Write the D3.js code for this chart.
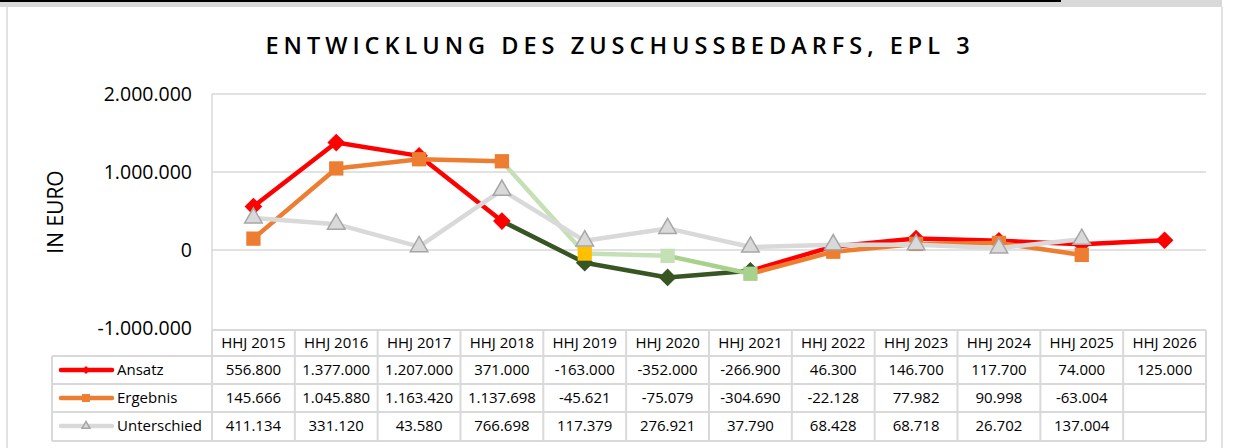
<!DOCTYPE html>
<html>
<head>
<meta charset="utf-8">
<script src="https://cdn.jsdelivr.net/npm/d3@7"></script>
<style>
  html, body { margin: 0; padding: 0; background: #fff; }
  svg { display: block; }
  text { font-family: "Open Sans", "Noto Sans", sans-serif; fill: #000; }
</style>
</head>
<body>
<svg id="chart" width="1233" height="448"></svg>
<script>
// Haushaltsjahre und Werte (Euro)
const categories = ["HHJ 2015", "HHJ 2016", "HHJ 2017", "HHJ 2018", "HHJ 2019", "HHJ 2020",
                    "HHJ 2021", "HHJ 2022", "HHJ 2023", "HHJ 2024", "HHJ 2025", "HHJ 2026"];
const ansatz      = [556800, 1377000, 1207000, 371000, -163000, -352000, -266900, 46300, 146700, 117700, 74000, 125000];
const ergebnis    = [145666, 1045880, 1163420, 1137698, -45621, -75079, -304690, -22128, 77982, 90998, -63004, null];
const unterschied = [411134, 331120, 43580, 766698, 117379, 276921, 37790, 68428, 68718, 26702, 137004, null];
const yTicks = [-1000000, 0, 1000000, 2000000];

const de = d3.formatLocale({ decimal: ",", thousands: ".", grouping: [3], currency: ["", " €"], minus: "-" });
const fmt = de.format(",d");

const svg = d3.select("#chart");

// Rahmen des Diagrammbereichs
svg.append("rect").attr("x", 0).attr("y", 0).attr("width", 1222).attr("height", 7).attr("fill", "#d9d9d9");
svg.append("rect").attr("x", 0).attr("y", 0).attr("width", 1061).attr("height", 2).attr("fill", "#000");
svg.append("line").attr("x1", 7).attr("x2", 7).attr("y1", 7).attr("y2", 448)
  .attr("stroke", "#d9d9d9").attr("stroke-width", 1.5);
svg.append("line").attr("x1", 1222).attr("x2", 1222).attr("y1", 7).attr("y2", 448)
  .attr("stroke", "#d9d9d9").attr("stroke-width", 1.5);

// Titel
svg.append("text")
  .attr("x", 620).attr("y", 54)
  .attr("text-anchor", "middle")
  .style("font-size", "23.5px").style("font-weight", 600).style("letter-spacing", "5px")
  .text("ENTWICKLUNG DES ZUSCHUSSBEDARFS, EPL 3");

// Skalen
const left = 212, right = 1206;
const x = d3.scaleBand().domain(categories).range([left, right]);
const cx = c => x(c) + x.bandwidth() / 2;
const y = d3.scaleLinear().domain([-1000000, 2000000]).range([328, 94]);

// Gitterlinien
svg.append("g").selectAll("line").data(yTicks.filter(t => t > -1000000)).join("line")
  .attr("x1", left).attr("x2", right)
  .attr("y1", d => y(d)).attr("y2", d => y(d))
  .attr("stroke", "#d9d9d9").attr("stroke-width", 1.5);
svg.append("line").attr("x1", left).attr("x2", left).attr("y1", y(2000000)).attr("y2", 330)
  .attr("stroke", "#d9d9d9").attr("stroke-width", 1.5);

// y-Achse
const yAxis = d3.axisLeft(y).tickValues(yTicks).tickFormat(fmt).tickSize(0).tickPadding(0);
const ya = svg.append("g").attr("transform", "translate(192,0)").call(yAxis);
ya.select(".domain").remove();
ya.selectAll("text").style("font-size", "19.5px").style("font-family", "'Open Sans', sans-serif").attr("dy", "0.35em");

svg.append("text")
  .attr("transform", "translate(63,212) rotate(-90)")
  .attr("text-anchor", "middle")
  .style("font-size", "21px")
  .text("IN EURO");

// Farben
const RED = "#ff0000", ORANGE = "#ed7d31", GREY = "#d9d9d9", GREY_EDGE = "#a6a6a6";
const DARK_GREEN = "#375623", LIGHT_GREEN = "#c5e0b4", MID_GREEN = "#a9d18e", GOLD = "#ffc000";

// Abweichende Segmentfarben (Index = Startpunkt des Segments)
const ansatzSegColor = i => (i >= 3 && i <= 5) ? DARK_GREEN : RED;
const ergebnisSegColor = i => (i === 5) ? MID_GREEN : (i >= 3 && i <= 4) ? LIGHT_GREEN : ORANGE;
const ansatzPtColor = i => (i >= 4 && i <= 6) ? DARK_GREEN : RED;
const ergebnisPtColor = i => i === 4 ? GOLD : i === 5 ? LIGHT_GREEN : i === 6 ? MID_GREEN : ORANGE;

function segments(values) {
  const segs = [];
  for (let i = 0; i < values.length - 1; i++) {
    if (values[i] != null && values[i + 1] != null) segs.push({ i, a: values[i], b: values[i + 1] });
  }
  return segs;
}
const points = values => values.map((v, i) => ({ i, v })).filter(d => d.v != null);

function drawSeries(values, segColor, ptColor, symbolType, size, stroke) {
  const g = svg.append("g");
  g.selectAll("line").data(segments(values)).join("line")
    .attr("x1", d => cx(categories[d.i])).attr("y1", d => y(d.a))
    .attr("x2", d => cx(categories[d.i + 1])).attr("y2", d => y(d.b))
    .attr("stroke", d => segColor(d.i)).attr("stroke-width", 4.5).attr("stroke-linecap", "round");
  g.selectAll("path").data(points(values)).join("path")
    .attr("transform", d => `translate(${cx(categories[d.i])},${y(d.v)})`)
    .attr("d", d3.symbol().type(symbolType).size(size))
    .attr("fill", d => ptColor(d.i))
    .attr("stroke", stroke || "none").attr("stroke-width", stroke ? 1.5 : 0);
}

drawSeries(ansatz, ansatzSegColor, ansatzPtColor, d3.symbolDiamond2, 200);
drawSeries(ergebnis, ergebnisSegColor, ergebnisPtColor, d3.symbolSquare2, 260);
drawSeries(unterschied, () => GREY, () => GREY, d3.symbolTriangle2, 220, GREY_EDGE);

// Datentabelle
const tbl = svg.append("g");
const rowY = [330, 356, 384, 412, 441];
const legendLeft = 52;
const border = "#d9d9d9";
const colEdges = categories.map(c => x(c)).concat([right]);

// Horizontale Linien
[[left, rowY[0]], [legendLeft, rowY[1]], [legendLeft, rowY[2]], [legendLeft, rowY[3]], [legendLeft, rowY[4]]]
  .forEach(([x0, yy]) => tbl.append("line").attr("x1", x0).attr("x2", right).attr("y1", yy).attr("y2", yy)
    .attr("stroke", border).attr("stroke-width", 2));
// Vertikale Linien
colEdges.forEach(xx => tbl.append("line").attr("x1", xx).attr("x2", xx).attr("y1", rowY[0]).attr("y2", rowY[4])
  .attr("stroke", border).attr("stroke-width", 2));
tbl.append("line").attr("x1", legendLeft).attr("x2", legendLeft).attr("y1", rowY[1]).attr("y2", rowY[4])
  .attr("stroke", border).attr("stroke-width", 2);

// Kopfzeile
tbl.selectAll("text.head").data(categories).join("text").attr("class", "head")
  .attr("x", d => cx(d)).attr("y", 348).attr("text-anchor", "middle")
  .style("font-size", "15px").text(d => d);

const rows = [
  { name: "Ansatz", values: ansatz, color: RED, sym: d3.symbolDiamond2, size: 40, fill: RED, base: 375 },
  { name: "Ergebnis", values: ergebnis, color: ORANGE, sym: d3.symbolSquare2, size: 80, fill: ORANGE, base: 403 },
  { name: "Unterschied", values: unterschied, color: GREY, sym: d3.symbolTriangle2, size: 45, fill: GREY, edge: GREY_EDGE, base: 431 }
];

rows.forEach(r => {
  const mid = r.base - 5;
  tbl.append("line").attr("x1", 61).attr("x2", 112).attr("y1", mid).attr("y2", mid)
    .attr("stroke", r.color).attr("stroke-width", 4.5).attr("stroke-linecap", "round");
  tbl.append("path").attr("transform", `translate(86,${mid})`)
    .attr("d", d3.symbol().type(r.sym).size(r.size))
    .attr("fill", r.fill).attr("stroke", r.edge || "none").attr("stroke-width", r.edge ? 1.5 : 0);
  tbl.append("text").attr("x", 117).attr("y", r.base).style("font-size", "15px").text(r.name);
  tbl.selectAll(null).data(r.values.map((v, i) => ({ v, i })).filter(d => d.v != null)).join("text")
    .attr("x", d => cx(categories[d.i])).attr("y", r.base).attr("text-anchor", "middle")
    .style("font-size", "15px").text(d => fmt(d.v));
});
</script>
</body>
</html>
